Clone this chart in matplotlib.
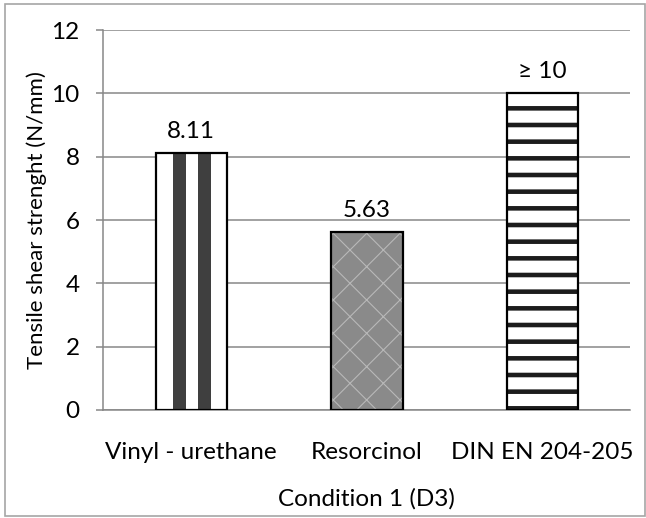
import matplotlib
matplotlib.use("Agg")
import matplotlib.pyplot as plt
from matplotlib.patches import Rectangle

categories = ["Vinyl - urethane", "Resorcinol", "DIN EN 204-205"]
values = [8.11, 5.63, 10]
value_labels = ["8.11", "5.63", "\u2265 10"]
yticks = [0, 2, 4, 6, 8, 10, 12]

FS = 17.5
plt.rcParams['font.family'] = ['Lato', 'DejaVu Sans']
plt.rcParams['font.size'] = FS

fig = plt.figure(figsize=(6.46, 5.18), dpi=100)
ax = fig.add_axes([0.160, 0.2085, 0.816, 0.7335])

grid_c = '#878787'
x = list(range(len(categories)))
w = 0.405

# base fills
b1 = ax.bar(x[0], values[0], width=w, color='white', linewidth=0, zorder=2)
b2 = ax.bar(x[1], values[1], width=w, color='#8a8a8a', edgecolor='#b8b8b8',
            hatch='x', linewidth=0, zorder=2)
b3 = ax.bar(x[2], values[2], width=w, color='white', edgecolor='#1c1c1c',
            hatch='-', linewidth=0, zorder=2)
for p in b2:
    if hasattr(p, 'set_hatch_linewidth'):
        p.set_hatch_linewidth(0.8)
for p in b3:
    if hasattr(p, 'set_hatch_linewidth'):
        p.set_hatch_linewidth(3.3)

# vertical stripes for first bar derived from its geometry
for p in b1:
    x0, bw, h = p.get_x(), p.get_width(), p.get_height()
    for f0, f1 in [(0.25, 0.43), (0.60, 0.78)]:
        ax.add_patch(Rectangle((x0 + f0 * bw, 0), (f1 - f0) * bw, h,
                               facecolor='#3f3f3f', linewidth=0, zorder=2.5))

# outlines
ax.bar(x, values, width=w, facecolor='none', edgecolor='black', linewidth=1.6, zorder=3)

for xi, v, lab in zip(x, values, value_labels):
    ax.annotate(lab, (xi, v), xytext=(0, 8), textcoords='offset points',
                ha='center', va='bottom', fontsize=FS, color='black')

ax.set_ylim(0, 12)
ax.set_xlim(-0.5, 2.5)
ax.set_yticks(yticks)
ax.set_yticklabels([str(t) for t in yticks])
ax.set_xticks(x)
ax.set_xticklabels(categories)
ax.yaxis.grid(True, color=grid_c, linewidth=1.1, zorder=0)
ax.set_axisbelow(True)
for s in ['top', 'right']:
    ax.spines[s].set_visible(False)
for s in ['left', 'bottom']:
    ax.spines[s].set_color(grid_c)
    ax.spines[s].set_linewidth(1.1)
ax.tick_params(axis='y', length=5, width=1.1, color=grid_c, pad=12, labelsize=FS)
ax.tick_params(axis='x', length=0, pad=23, labelsize=FS)
ax.set_ylabel('Tensile shear strenght (N/mm)', fontsize=16, labelpad=3)
ax.set_xlabel('Condition 1 (D3)', fontsize=FS, labelpad=18)

fig.patches.append(Rectangle((0.008, 0.004), 0.99, 0.988, transform=fig.transFigure,
                             fill=False, edgecolor='#a6a6a6', linewidth=1.2))

fig.savefig('out.png', dpi=100)
